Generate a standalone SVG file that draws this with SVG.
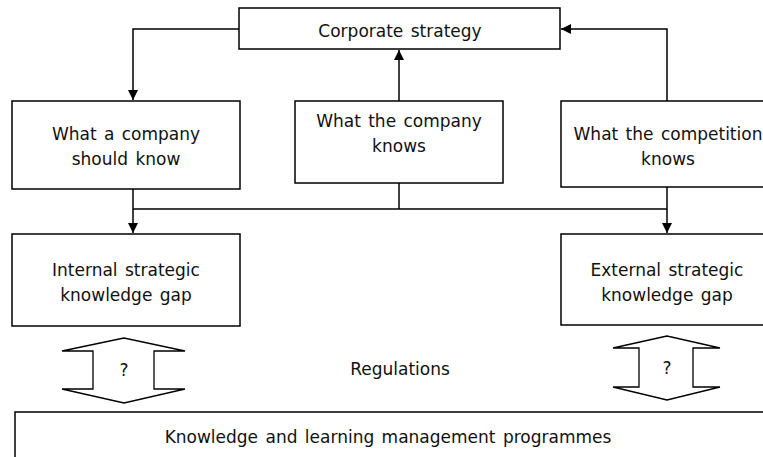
<svg xmlns="http://www.w3.org/2000/svg" width="763" height="457" viewBox="0 0 763 457">
<defs>
<style>
.box{fill:#fff;stroke:#000;stroke-width:1.5}
.t{font-family:Verdana,"DejaVu Sans",sans-serif;font-size:17px;fill:#111;text-anchor:middle;word-spacing:2px}
.c{fill:none;stroke:#000;stroke-width:1.5}
.dbl{fill:#fff;stroke:#000;stroke-width:1.3}
</style>
<marker id="ah" viewBox="0 0 10 10" refX="10" refY="5" markerWidth="10" markerHeight="10" markerUnits="userSpaceOnUse" orient="auto">
<path d="M0,0 L10,5 L0,10 Z" fill="#000"/>
</marker>
</defs>
<rect width="763" height="457" fill="#fff"/>
<g id="connectors">
<path class="c" d="M239,29 H133 V100" marker-end="url(#ah)"/>
<path class="c" d="M399,101 V50" marker-end="url(#ah)"/>
<path class="c" d="M667,101 V29 H561" marker-end="url(#ah)"/>
<path class="c" d="M133,189 V233" marker-end="url(#ah)"/>
<path class="c" d="M667,187 V233" marker-end="url(#ah)"/>
<path class="c" d="M133,209 H667"/>
<path class="c" d="M399,183 V209"/>
</g>
<g id="corporate">
<rect class="box" x="239" y="8" width="321" height="41"/>
<text class="t" x="400" y="37">Corporate strategy</text>
</g>
<g id="should-know">
<rect class="box" x="12" y="101" width="228" height="88"/>
<text class="t" x="126" y="140">What a company</text>
<text class="t" x="126" y="165">should know</text>
</g>
<g id="company-knows">
<rect class="box" x="295" y="101" width="208" height="82"/>
<text class="t" x="399" y="127">What the company</text>
<text class="t" x="399" y="152">knows</text>
</g>
<g id="competition-knows">
<rect class="box" x="561" y="101" width="214" height="86"/>
<text class="t" x="668" y="140">What the competition</text>
<text class="t" x="668" y="165">knows</text>
</g>
<g id="internal-gap">
<rect class="box" x="12" y="234" width="228" height="92"/>
<text class="t" x="126" y="276">Internal strategic</text>
<text class="t" x="126" y="301">knowledge gap</text>
</g>
<g id="external-gap">
<rect class="box" x="561" y="234" width="214" height="91"/>
<text class="t" x="667" y="276">External strategic</text>
<text class="t" x="667" y="301">knowledge gap</text>
</g>
<g id="left-double-arrow">
<polygon class="dbl" points="124,338 62,351 93,351 93,389 62,389 124,403 185,389 154,389 154,351 185,351"/>
<text class="t" x="124" y="376">?</text>
</g>
<g id="regulations">
<text class="t" x="400" y="375">Regulations</text>
</g>
<g id="right-double-arrow">
<polygon class="dbl" points="667,336 613,348 639,348 639,387 613,387 667,400 720,387 693,387 693,348 720,348"/>
<text class="t" x="667" y="374">?</text>
</g>
<g id="programmes">
<rect class="box" x="15" y="412" width="760" height="60"/>
<text class="t" x="388" y="443">Knowledge and learning management programmes</text>
</g>
</svg>
